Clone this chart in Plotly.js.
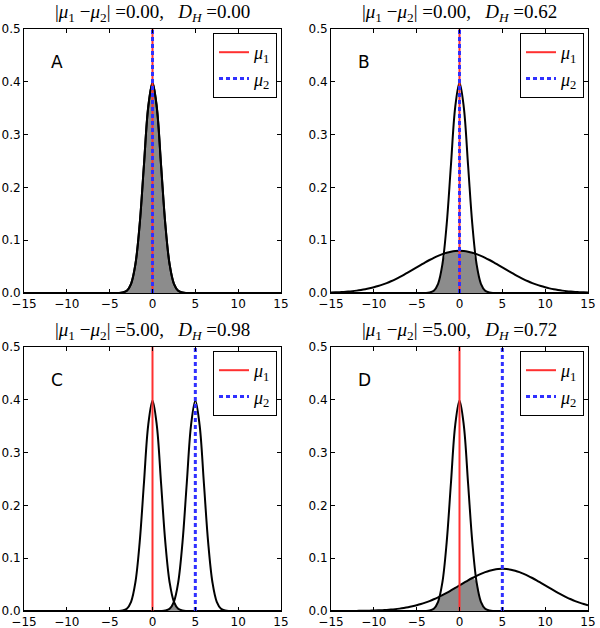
<!DOCTYPE html>
<html>
<head>
<meta charset="utf-8">
<script src="https://cdn.plot.ly/plotly-3.0.1.min.js"></script>
<style>html,body{margin:0;padding:0;background:#fff;}#chart{width:600px;height:628px;}</style>
</head>
<body>
<div id="chart"></div>
<script>
// x grid (step 0.5)
const xGrid = [-15,-14.5,-14,-13.5,-13,-12.5,-12,-11.5,-11,-10.5,-10,-9.5,-9,-8.5,-8,-7.5,-7,-6.5,-6,-5.5,-5,-4.5,-4,-3.5,-3,-2.5,-2,-1.5,-1,-0.5,0,0.5,1,1.5,2,2.5,3,3.5,4,4.5,5,5.5,6,6.5,7,7.5,8,8.5,9,9.5,10,10.5,11,11.5,12,12.5,13,13.5,14,14.5,15];

// density values
const narrowAt0 = [0,0,0,0,0,0,0,0,0,0,0,0,0,0,0,0,0,0,0,0,0,0,
  0.0001,0.0009,0.0044,0.0175,0.0540,0.1295,0.2420,0.3521,0.3989,0.3521,0.2420,0.1295,0.0540,0.0175,0.0044,0.0009,0.0001,
  0,0,0,0,0,0,0,0,0,0,0,0,0,0,0,0,0,0,0,0,0,0];
const narrowAt5 = [0,0,0,0,0,0,0,0,0,0,0,0,0,0,0,0,0,0,0,0,0,0,0,0,0,0,0,0,0,0,0,0,
  0.0001,0.0009,0.0044,0.0175,0.0540,0.1295,0.2420,0.3521,0.3989,0.3521,0.2420,0.1295,0.0540,0.0175,0.0044,0.0009,0.0001,
  0,0,0,0,0,0,0,0,0,0,0,0];
const wideAt0 = [0.0009,0.0012,0.0016,0.0021,0.0027,0.0035,0.0045,0.0057,0.0071,0.0088,0.0108,0.0131,0.0158,0.0188,0.0222,0.0259,0.0300,0.0343,0.0389,0.0436,0.0484,0.0532,0.0580,0.0625,0.0667,0.0704,0.0737,0.0763,0.0782,0.0794,0.0798,
  0.0794,0.0782,0.0763,0.0737,0.0704,0.0667,0.0625,0.0580,0.0532,0.0484,0.0436,0.0389,0.0343,0.0300,0.0259,0.0222,0.0188,0.0158,0.0131,0.0108,0.0088,0.0071,0.0057,0.0045,0.0035,0.0027,0.0021,0.0016,0.0012,0.0009];
const wideAt5 = [0.0000,0.0000,0.0001,0.0001,0.0001,0.0002,0.0002,0.0003,0.0005,0.0007,0.0009,0.0012,0.0016,0.0021,0.0027,0.0035,0.0045,0.0057,0.0071,0.0088,0.0108,0.0131,0.0158,0.0188,0.0222,0.0259,0.0300,0.0343,0.0389,0.0436,0.0484,0.0532,0.0580,0.0625,0.0667,0.0704,0.0737,0.0763,0.0782,0.0794,0.0798,
  0.0794,0.0782,0.0763,0.0737,0.0704,0.0667,0.0625,0.0580,0.0532,0.0484,0.0436,0.0389,0.0343,0.0300,0.0259,0.0222,0.0188,0.0158,0.0131,0.0108];

// panels
const panelLetters = ['A','B','C','D'];
const mu1Values = [0, 0, 0, 0];
const mu2Values = [0, 0, 5, 5];
const dHValues = [0.00, 0.62, 0.98, 0.72];
const firstCurves = [narrowAt0, narrowAt0, narrowAt0, narrowAt0];
const secondCurves = [narrowAt0, wideAt0, narrowAt5, wideAt5];
const xTicks = [-15,-10,-5,0,5,10,15];
const yTicks = [0,0.1,0.2,0.3,0.4,0.5];

const W = 600, H = 628;
const colLeft = [24, 331], colWidth = 257;
const rowTop = [29, 347], rowHeight = 264;

const traces = [];
const layout = {
  width: W, height: H, margin: {l:0, r:0, t:0, b:0},
  paper_bgcolor: '#fff', plot_bgcolor: '#fff',
  showlegend: true, annotations: [],
  font: {family: 'DejaVu Sans', size: 12, color: '#000'}
};
const serif = 'Liberation Serif, DejaVu Serif, serif';

for (let p = 0; p < 4; p++) {
  const col = p % 2, row = Math.floor(p / 2);
  const sfx = p === 0 ? '' : String(p + 1);
  const xa = 'x' + sfx, ya = 'y' + sfx;
  const legName = 'legend' + sfx;
  const x0 = colLeft[col], y0 = rowTop[row];
  const dom = {
    x: [x0 / W, (x0 + colWidth) / W],
    y: [1 - (y0 + rowHeight) / H, 1 - y0 / H]
  };
  const axCommon = {
    showline: true, linecolor: '#000', linewidth: 1, mirror: 'ticks',
    ticks: 'inside', ticklen: 4, tickcolor: '#000', tickwidth: 1,
    showgrid: false, zeroline: false, fixedrange: true,
    tickfont: {family: 'DejaVu Sans', size: 12, color: '#000'}
  };
  layout['xaxis' + sfx] = Object.assign({}, axCommon, {
    domain: dom.x, range: [-15, 15], tickvals: xTicks, anchor: ya, ticklabelstandoff: 0
  });
  layout['yaxis' + sfx] = Object.assign({}, axCommon, {
    domain: dom.y, range: [0, 0.5], tickvals: yTicks, tickformat: '.1f', anchor: xa
  });

  const a = firstCurves[p], b = secondCurves[p];
  const overlap = a.map((v, i) => Math.min(v, b[i]));
  traces.push({
    x: xGrid, y: overlap, xaxis: xa, yaxis: ya, type: 'scatter', mode: 'lines',
    line: {width: 0, shape: 'spline', smoothing: 1}, fill: 'tozeroy', fillcolor: '#8c8c8c',
    showlegend: false, hoverinfo: 'skip'
  });
  [a, b].forEach(c => traces.push({
    x: xGrid, y: c, xaxis: xa, yaxis: ya, type: 'scatter', mode: 'lines',
    line: {color: '#000', width: 2, shape: 'spline', smoothing: 1}, showlegend: false
  }));
  traces.push({
    x: [mu1Values[p], mu1Values[p]], y: [0, 0.5], xaxis: xa, yaxis: ya, type: 'scatter', mode: 'lines',
    line: {color: '#ff3030', width: 2}, name: '<i>μ</i><sub>1</sub>', legend: legName
  });
  traces.push({
    x: [mu2Values[p], mu2Values[p]], y: [0, 0.5], xaxis: xa, yaxis: ya, type: 'scatter', mode: 'lines',
    line: {color: '#3030ff', width: 3, dash: '4px,3px'}, name: '<i>μ</i><sub>2</sub>', legend: legName
  });

  layout[legName] = {
    x: (x0 + colWidth - 4) / W, y: 1 - (y0 + 4) / H, xanchor: 'right', yanchor: 'top',
    xref: 'paper', yref: 'paper',
    bgcolor: '#fff', bordercolor: '#000', borderwidth: 1,
    font: {family: serif, size: 18, color: '#000'},
    tracegroupgap: 0, itemwidth: 30
  };

  const diff = Math.abs(mu1Values[p] - mu2Values[p]).toFixed(2);
  layout.annotations.push({
    xref: 'paper', yref: 'paper', x: (x0 + colWidth / 2) / W, y: 1 - (y0 - 2) / H,
    xanchor: 'center', yanchor: 'bottom', showarrow: false,
    text: '|<i>μ</i><sub>1</sub> −<i>μ</i><sub>2</sub>| =' + diff + ',   <i>D</i><sub><i>H</i></sub> =' + dHValues[p].toFixed(2),
    font: {family: serif, size: 19, color: '#000'}
  });
  layout.annotations.push({
    xref: xa + ' domain', yref: ya + ' domain', x: 0.13, y: 0.875,
    xanchor: 'center', yanchor: 'middle', showarrow: false,
    text: panelLetters[p], font: {family: 'DejaVu Sans', size: 17, color: '#000'}
  });
}

Plotly.newPlot('chart', traces, layout, {staticPlot: true});
</script>
</body>
</html>
